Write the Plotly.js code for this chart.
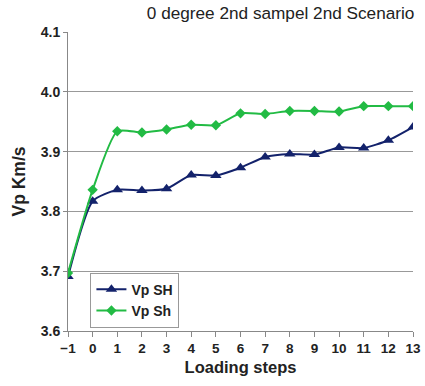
<!DOCTYPE html>
<html><head><meta charset="utf-8">
<script src="https://cdn.plot.ly/plotly-3.0.1.min.js"></script>
<style>html,body{margin:0;padding:0;background:#fff}#chart{width:425px;height:386px}</style>
</head><body><div id="chart"></div>
<script>
const steps = [-1,0,1,2,3,4,5,6,7,8,9,10,11,12,13];
const vpSH = [3.691,3.817,3.836,3.835,3.838,3.861,3.860,3.873,3.891,3.896,3.895,3.907,3.906,3.919,3.941];
const vpSh = [3.697,3.836,3.934,3.932,3.937,3.945,3.944,3.964,3.963,3.968,3.968,3.967,3.976,3.976,3.976];
const names = ["Vp SH","Vp Sh"];
const tickVals = [-1,0,1,2,3,4,5,6,7,8,9,10,11,12,13];
const font = "Liberation Sans, Arial, sans-serif";
const traces = [
 {x:steps,y:vpSH,name:names[0],mode:"lines+markers",line:{color:"#13226b",width:2,shape:"spline",smoothing:0.6},marker:{symbol:"triangle-up",size:10,color:"#13226b"}},
 {x:steps,y:vpSh,name:names[1],mode:"lines+markers",line:{color:"#22bb44",width:2,shape:"spline",smoothing:0.6},marker:{symbol:"diamond",size:8,color:"#22bb44"}}
];
const layout = {
 width:425,height:386,
 margin:{l:68,r:12,t:32,b:55},
 paper_bgcolor:"#fff",plot_bgcolor:"#fff",
 showlegend:true,
 title:{text:"0 degree 2nd sampel 2nd Scenario",font:{family:font,size:17.2,color:"#222"},x:0.975,xanchor:"right",y:0.982,yanchor:"top"},
 xaxis:{range:[-1,13],tickvals:tickVals,ticks:"outside",ticklen:5,tickcolor:"#888",showgrid:false,zeroline:false,showline:true,linecolor:"#888",
   tickfont:{family:font,size:13.5,color:"#222",weight:"bold"},
   title:{text:"<b>Loading steps</b>",font:{family:font,size:16.5,color:"#222"},standoff:6}},
 yaxis:{range:[3.6,4.1],dtick:0.1,tickformat:".1f",showgrid:true,gridcolor:"#999",gridwidth:1,zeroline:false,showline:true,linecolor:"#888",ticks:"outside",ticklen:4,tickcolor:"#888",
   tickfont:{family:font,size:14,color:"#222",weight:"bold"},
   title:{text:"<b>Vp Km/s</b>",font:{family:font,size:17.5,color:"#222"},standoff:10}},
 legend:{x:0.065,y:0.195,xanchor:"left",yanchor:"top",bgcolor:"#fff",bordercolor:"#999",borderwidth:1,
   font:{family:font,size:14,color:"#222",weight:"bold"},itemwidth:30,tracegroupgap:4}
};
Plotly.newPlot("chart",traces,layout,{displayModeBar:false,staticPlot:true});
</script></body></html>
